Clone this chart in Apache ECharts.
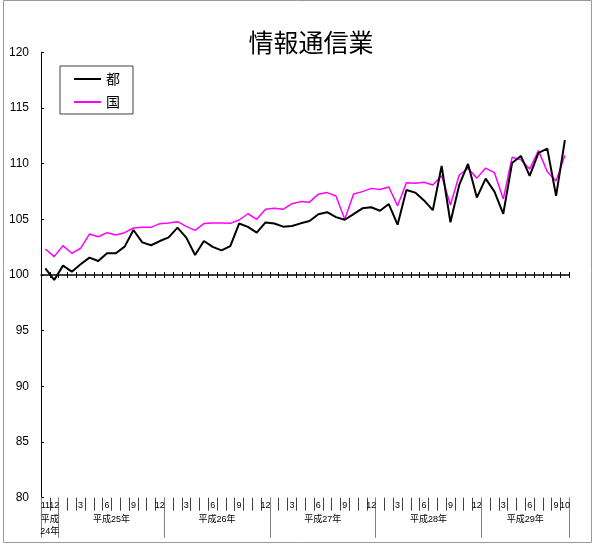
<!DOCTYPE html>
<html><head><meta charset="utf-8">
<script src="https://cdn.jsdelivr.net/npm/echarts@6/dist/echarts.min.js"></script>
<style>html,body{margin:0;padding:0;background:#fff}#c{width:595px;height:546px}</style>
</head><body><div id="c"></div>
<script>
const months = [11,12,1,2,3,4,5,6,7,8,9,10,11,12,1,2,3,4,5,6,7,8,9,10,11,12,1,2,3,4,5,6,7,8,9,10,11,12,1,2,3,4,5,6,7,8,9,10,11,12,1,2,3,4,5,6,7,8,9,10];
const yearNames = ['平成\n24年','平成25年','平成26年','平成27年','平成28年','平成29年'];
const yearStart = [0,2,14,26,38,50];
const tokyo = [100.6,99.55,100.84,100.3,100.96,101.56,101.26,101.95,101.95,102.55,
104.04,102.93,102.67,103.05,103.38,104.25,103.36,101.8,103.05,102.52,
102.21,102.6,104.62,104.32,103.8,104.72,104.62,104.34,104.4,104.64,
104.85,105.46,105.64,105.2,104.96,105.46,105.99,106.08,105.77,106.37,
104.52,107.64,107.4,106.7,105.82,109.79,104.73,108.09,109.97,106.95,
108.65,107.49,105.5,110.05,110.69,108.91,110.96,111.35,107.11,112.11];
const national = [102.34,101.65,102.64,101.95,102.4,103.68,103.44,103.8,103.6,103.8,
104.22,104.28,104.28,104.61,104.67,104.79,104.37,104.01,104.62,104.68,
104.68,104.64,104.94,105.5,105.0,105.91,105.99,105.9,106.4,106.59,
106.54,107.26,107.4,107.1,105.0,107.27,107.49,107.78,107.68,107.9,
106.21,108.29,108.24,108.33,108.09,108.92,106.29,108.98,109.58,108.7,
109.6,109.19,106.82,110.57,110.36,109.51,111.17,109.28,108.45,110.75];
const seriesNames = ['都','国'];
const yTicks = {min:80, max:120, interval:5};

const W=595,H=546, gl=41, gr=25.7, gt=52.3, gb=48.3;
const gh = H-gt-gb;
const band = (W-gl-gr)/months.length;
const off100 = -gh*(100-yTicks.min)/(yTicks.max-yTicks.min);
const n = months.length;
const yearLabelIdx = {};
yearStart.forEach((s,k)=>{ const e = k+1<yearStart.length?yearStart[k+1]:n; const mid = s+Math.floor((e-s)/2)-1; yearLabelIdx[mid]=k; });
const FONT = "'Liberation Sans','Noto Sans CJK JP',sans-serif";
const monthLabelStyle = {margin:3, fontSize:9, color:'#000', fontFamily:FONT, hideOverlap:false};

const chart = echarts.init(document.getElementById('c'), null, {renderer:'canvas'});
chart.setOption({
  animation:false,
  title:{text:'情報通信業', left:306, top:25, textAlign:'center',
    textStyle:{fontFamily:"'Noto Sans CJK JP',sans-serif", fontSize:25, fontWeight:'normal', color:'#000'}},
  legend:{left:60, top:66, orient:'vertical', itemGap:9, itemWidth:27, itemHeight:2,
    padding:[6,13,5,14], borderColor:'#404040', borderWidth:1, icon:'rect',
    textStyle:{fontFamily:"'Noto Sans CJK JP',sans-serif", fontSize:14, color:'#000'},
    data:seriesNames},
  grid:{left:gl, right:gr, top:gt, bottom:gb, containLabel:false},
  graphic:[{type:'rect', shape:{x:3.5,y:0.5,width:588,height:542}, style:{fill:'none', stroke:'#999', lineWidth:1}, silent:true}],
  xAxis:[
    {type:'category', data:months, boundaryGap:true, position:'bottom', offset:0,
      axisLine:{show:false},
      axisTick:{show:true, interval:0, length:13, lineStyle:{color:'#404040'}},
      axisLabel:Object.assign({interval:(i)=> (i>0 && (months[i]%3===0 || i===n-1)), showMaxLabel:true}, monthLabelStyle)},
    {type:'category', data:months, boundaryGap:true, position:'bottom', offset:0,
      axisLine:{show:false},
      axisTick:{show:true, interval:(i)=> yearStart.indexOf(i)>=0, length:40, lineStyle:{color:'#808080'}},
      axisLabel:{interval:(i)=> (i in yearLabelIdx), formatter:(v,i)=> (i in yearLabelIdx)? yearNames[yearLabelIdx[i]] : '',
        margin:16, fontSize:9, lineHeight:12, color:'#000', fontFamily:FONT, padding:[0,0,0,band]}},
    {type:'category', data:months, boundaryGap:true, position:'bottom', offset:off100,
      axisLine:{show:true, lineStyle:{color:'#000', width:1.5}},
      axisTick:{show:true, interval:0, length:3, inside:false, lineStyle:{color:'#000'}},
      axisLabel:{show:false}},
    {type:'category', data:months, boundaryGap:true, position:'bottom', offset:off100,
      axisLine:{show:false},
      axisTick:{show:true, interval:0, length:3, inside:true, lineStyle:{color:'#000'}},
      axisLabel:{show:false}},
    {type:'category', data:months, boundaryGap:true, position:'bottom', offset:0,
      axisLine:{show:false}, axisTick:{show:false},
      axisLabel:Object.assign({interval:(i)=> i===0, showMinLabel:true}, monthLabelStyle)}
  ],
  yAxis:{type:'value', min:yTicks.min, max:yTicks.max, interval:yTicks.interval,
    axisLine:{show:true, lineStyle:{color:'#000', width:1}},
    axisTick:{show:true, inside:true, length:3, lineStyle:{color:'#000'}},
    axisLabel:{margin:12, fontSize:12, color:'#000', fontFamily:FONT},
    splitLine:{show:false}},
  series:[
    {name:seriesNames[0], type:'line', data:tokyo, xAxisIndex:0, symbol:'none', lineStyle:{color:'#000', width:2}, itemStyle:{color:'#000'}, z:3},
    {name:seriesNames[1], type:'line', data:national, xAxisIndex:0, symbol:'none', lineStyle:{color:'#FF00FF', width:1.5}, itemStyle:{color:'#FF00FF'}, z:2}
  ]
});
</script></body></html>
